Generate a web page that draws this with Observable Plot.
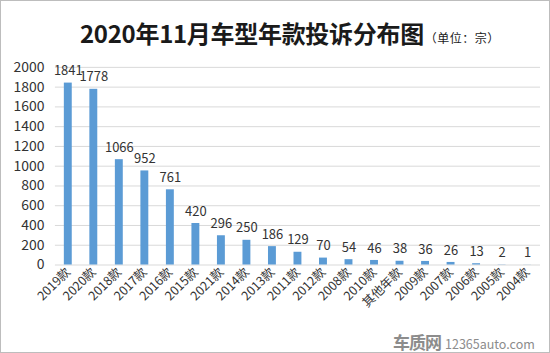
<!DOCTYPE html>
<html>
<head>
<meta charset="utf-8">
<script src="https://cdn.jsdelivr.net/npm/d3@7"></script>
<script src="https://cdn.jsdelivr.net/npm/@observablehq/plot@0.6"></script>
<style>
  html, body { margin: 0; padding: 0; background: #fff; }
  #wrap { position: relative; width: 550px; height: 353px; box-sizing: border-box; border: 1px solid #bdbdbd; overflow: hidden; font-family: "Noto Sans CJK SC", sans-serif; }
  #chart { position: absolute; left: -1px; top: -1px; }
  #title { position: absolute; left: 79px; top: 14px; font-size: 24px; font-weight: bold; color: #1a1a1a; white-space: nowrap; letter-spacing: -0.3px; }
  #unit { font-size: 12px; font-weight: normal; color: #1a1a1a; margin-left: 1px; letter-spacing: 0.5px; }
  #wm { position: absolute; left: 392px; top: 328px; color: #8c8c8c; white-space: nowrap; }
  #wm .logo { font-size: 17px; font-weight: bold; letter-spacing: -1px; }
  #wm .url { font-size: 12.5px; margin-left: 4px; }
</style>
</head>
<body>
<div id="wrap">
  <div id="chart"></div>
  <div id="title">2020年11月车型年款投诉分布图<span id="unit">（单位：宗）</span></div>
  <div id="wm"><span class="logo">车质网</span><span class="url">12365auto.com</span></div>
</div>
<script>
const categories = ["2019款","2020款","2018款","2017款","2016款","2015款","2021款","2014款","2013款","2011款","2012款","2008款","2010款","其他年款","2009款","2007款","2006款","2005款","2004款"];
const values = [1841,1778,1066,952,761,420,296,250,186,129,70,54,46,38,36,26,13,2,1];
const yTicks = [0,200,400,600,800,1000,1200,1400,1600,1800,2000];

const data = categories.map((c, i) => ({cat: c, value: values[i]}));

const chart = Plot.plot({
  width: 550,
  height: 353,
  marginLeft: 55,
  marginRight: 9,
  marginTop: 67,
  marginBottom: 88,
  style: {fontFamily: "'Noto Sans CJK SC', sans-serif", color: "#333", background: "transparent"},
  x: {domain: categories, paddingInner: 0.69, paddingOuter: 0.35, round: false, label: null},
  y: {domain: [0, 2000], label: null},
  marks: [
    Plot.gridY(yTicks, {stroke: "#d9d9d9", strokeOpacity: 1}),
    Plot.axisY({ticks: yTicks, tickFormat: d => String(d), tickSize: 0, tickPadding: 11, fontSize: 14, label: null}),
    Plot.axisX({tickSize: 0, tickRotate: -45, tickPadding: 5, fontSize: 12.5, label: null}),
    Plot.barY(data, {x: "cat", y: "value", fill: "#5b9bd5"}),
    Plot.text(data, {x: "cat", y: "value", text: d => String(d.value), dy: -12, fontSize: 13, letterSpacing: -0.2, fill: "#333"})
  ]
});
document.getElementById("chart").appendChild(chart);
</script>
</body>
</html>
